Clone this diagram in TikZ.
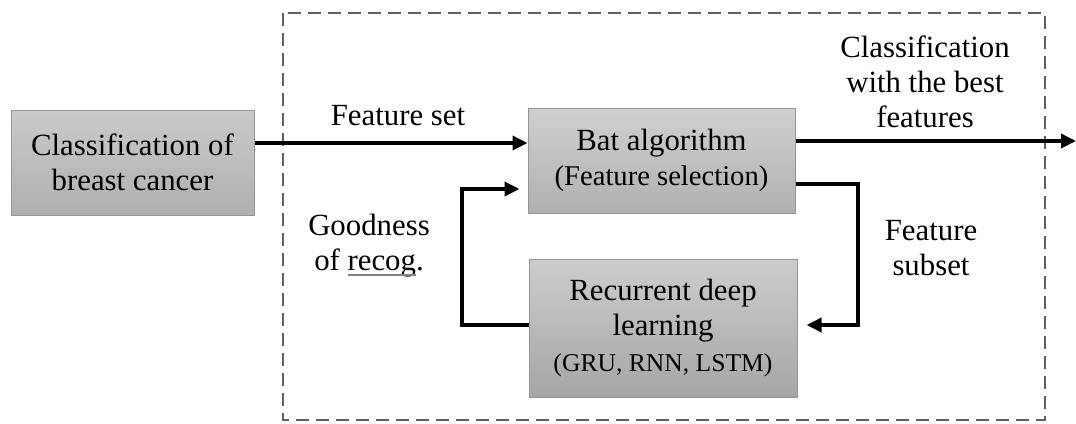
\documentclass[tikz,border=0pt]{standalone}
\usepackage{fontspec}
\setmainfont{Liberation Serif}
\usetikzlibrary{arrows.meta}

\newlength\sqwidth
\newcommand{\spellmark}[1]{\settowidth{\sqwidth}{#1}#1%
  \llap{\textcolor{cSquig}{\rule[-2.3pt]{\sqwidth}{0.9pt}}}}

\begin{document}
\begin{tikzpicture}[x=0.5pt,y=-0.5pt,
    font=\fontsize{15.4}{17.6}\selectfont,
    stage/.style={draw=cEdge,line width=0.5pt,inner sep=0pt,align=center,
      top color=cTop,bottom color=cBot},
    flow/.style={line width=1.7pt,-{Triangle[length=7.5pt,width=7pt]}},
    tag/.style={align=center,inner sep=0pt}]
  \definecolor{cTop}{RGB}{208,208,208}
  \definecolor{cBot}{RGB}{176,176,176}
  \definecolor{cEdge}{RGB}{150,150,150}
  \definecolor{cDash}{RGB}{95,95,95}
  \definecolor{cSquig}{RGB}{130,130,130}

  \useasboundingbox (0,0) rectangle (1076,423);

  % framed wrapper region
  \draw[cDash,line width=1pt,dash pattern=on 6.5pt off 3.5pt]
    (283,13) rectangle (1045,420);

  % --- blocks ---
  \node[stage,minimum width=121.5pt,minimum height=52.5pt,
    top color=cTop!80!cBot] (cls) at (132.5,162.5)
    {Classification of\\breast cancer};
  \node[stage,minimum width=133.5pt,minimum height=52.5pt] (bat) at (661.5,160.5)
    {Bat algorithm\\{\fontsize{14.3}{17.6}\selectfont(Feature selection)}};
  \node[stage,minimum width=134pt,minimum height=69pt,
    top color=cTop!90!cBot,bottom color=cBot!94!black] (rdl) at (663,328)
    {Recurrent deep\\learning\\{\fontsize{12.8}{17.6}\selectfont(GRU, RNN, LSTM)}};

  % --- labels ---
  \node[tag] (fset) at (398,116) {Feature set};
  \node[tag] (best) at (925,82) {Classification\\with the best\\features};
  \node[tag] (good) at (369,246) {Goodness\\of \spellmark{recog}.};
  \node[tag] (fsub) at (931,248) {Feature\\subset};

  % --- routing points ---
  \coordinate (inY) at (0,143);
  \coordinate (out) at (1076,141);
  \coordinate (subTop) at (858,184);
  \coordinate (fbTop) at (462,189);
  \coordinate (loopY) at (0,325);

  % main flow
  \draw[flow] (cls.east |- inY) -- (bat.west |- inY);
  \draw[flow] (bat.east |- out) -- (out);

  % subset loop
  \draw[flow,shorten >=4.5pt] (bat.east |- subTop) -- (subTop) -- (subTop |- loopY)
    -- (rdl.east |- loopY);
  \draw[flow,shorten >=4pt] (rdl.west |- loopY) -- (fbTop |- loopY) -- (fbTop)
    -- (bat.west |- fbTop);
\end{tikzpicture}
\end{document}
